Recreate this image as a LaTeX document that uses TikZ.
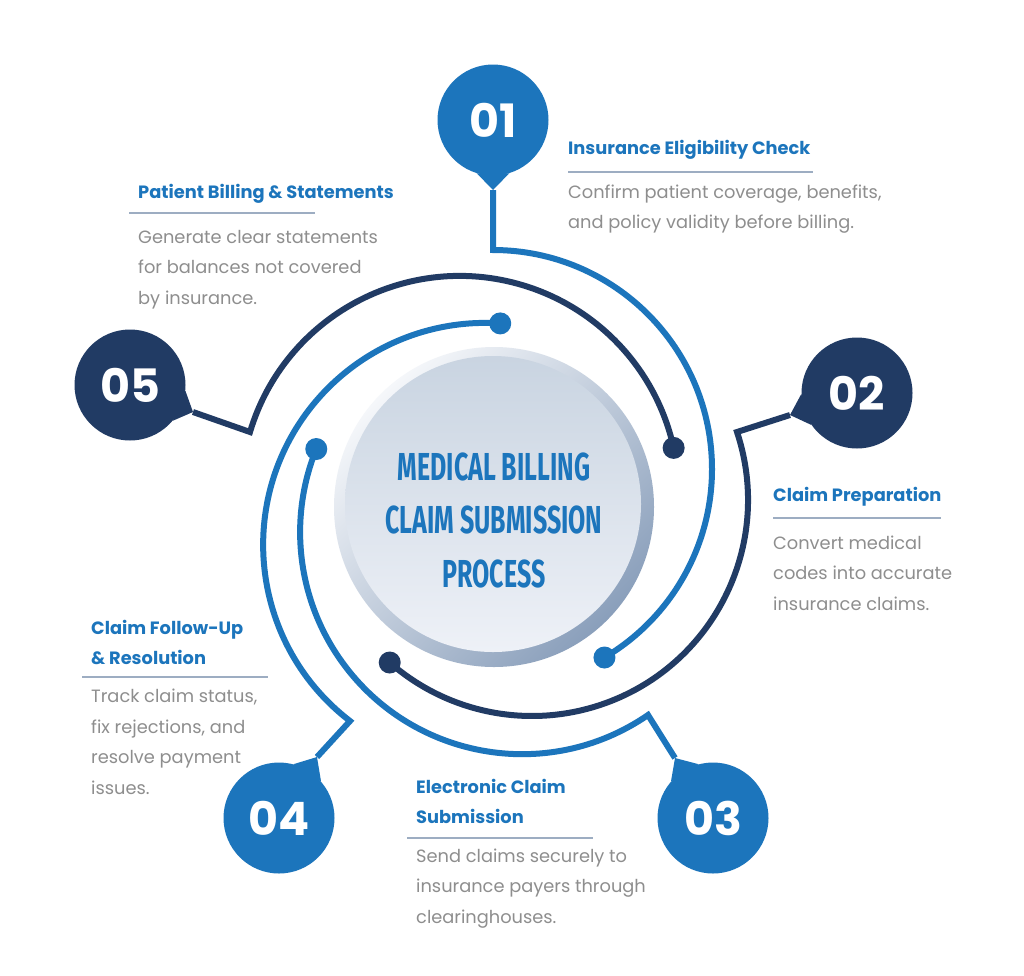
\documentclass[tikz,border=0pt]{standalone}
\usepackage{fontspec}
\setmainfont{Poppins}
\newfontfamily\titlefont[FakeStretch=0.64]{Fira Sans}
\definecolor{mbblue}{HTML}{1C75BC}
\definecolor{mbnavy}{HTML}{213B64}
\definecolor{mbtext}{HTML}{8E8E8E}
\definecolor{mbrule}{HTML}{9DADC2}
\definecolor{mbringlight}{HTML}{F5F7FA}
\definecolor{mbringdark}{HTML}{8A9FBB}
\definecolor{mbdisctop}{HTML}{C9D4E1}
\definecolor{mbdiscbot}{HTML}{EEF1F7}

\begin{document}
\begin{tikzpicture}[
  x=1pt, y=-1pt,
  bubble/.style={circle, minimum size=111, inner sep=0, text=white, font=\fontsize{46}{46}\selectfont\bfseries},
  enddot/.style={circle, minimum size=22, inner sep=0},
  linkline/.style={line width=6pt},
  stephead/.style={anchor=base west, inner sep=0, align=left, text=mbblue, font=\fontsize{17.8}{30}\selectfont\bfseries},
  stepbody/.style={anchor=base west, inner sep=0, align=left, text=mbtext, font=\fontsize{17.8}{30.5}\selectfont},
  steprule/.style={draw=mbrule, line width=1.3pt}
]
  \useasboundingbox[fill=white] (0,0) rectangle (1024,975);

  \node[circle, minimum size=320, inner sep=0, top color=mbringlight, bottom color=mbringdark, shading angle=45] (ring) at (494,507) {};
  \node[circle, minimum size=296, inner sep=0, top color=mbdisctop, bottom color=mbdiscbot] (disc) at (493,504) {};
  \node[align=center, text=mbblue, font=\titlefont\bfseries\fontsize{39}{53.5}\selectfont] (title) at (494,520) {MEDICAL BILLING\\CLAIM SUBMISSION\\PROCESS};

  \coordinate (p01) at (493,190);
  \coordinate (p02) at (790,415);
  \coordinate (p03) at (675,758);
  \coordinate (p04) at (317,757);
  \coordinate (p05) at (193,412);

  \draw[linkline, mbblue] (p01) -- (493,250) arc[start angle=-90, end angle=59.4, radius=219] node[enddot, fill=mbblue] (d01) {};
  \draw[linkline, mbnavy] (p02) -- (737,432) arc[start angle=-18.35, end angle=131.2, radius=216] node[enddot, fill=mbnavy] (d02) {};
  \draw[linkline, mbblue] (p03) -- (648,715) arc[start angle=55.45, end angle=202, radius=222] node[enddot, fill=mbblue] (d03) {};
  \draw[linkline, mbblue] (p04) -- (350,721) arc[start angle=127.5, end angle=273.9, radius=222] node[enddot, fill=mbblue] (d04) {};
  \draw[linkline, mbnavy] (p05) -- (250,432) arc[start angle=196.7, end angle=347.6, radius=219] node[enddot, fill=mbnavy] (d05) {};

  \node[bubble, fill=mbblue] (b01) at (493,120) {01};
  \node[bubble, fill=mbnavy] (b02) at (857,393) {02};
  \node[bubble, fill=mbblue] (b03) at (713,818) {03};
  \node[bubble, fill=mbblue] (b04) at (279,818) {04};
  \node[bubble, fill=mbnavy] (b05) at (130,385) {05};
  \fill[mbblue] (b01.-107) -- (p01) -- (b01.-73) -- cycle;
  \fill[mbnavy] (b02.181) -- (p02) -- (b02.215) -- cycle;
  \fill[mbblue] (b03.105) -- (p03) -- (b03.139) -- cycle;
  \fill[mbblue] (b04.41) -- (p04) -- (b04.75) -- cycle;
  \fill[mbnavy] (b05.-40) -- (p05) -- (b05.-6) -- cycle;

  \node[stephead] (h01) at (568,154) {Insurance Eligibility Check};
  \draw[steprule] (568,172) -- (813,172);
  \node[stepbody] (t01) at (568,228.5) {Confirm patient coverage, benefits,\\and policy validity before billing.};

  \node[stephead] (h02) at (773,501) {Claim Preparation};
  \draw[steprule] (773,518) -- (941,518);
  \node[stepbody] (t02) at (773,610) {Convert medical\\codes into accurate\\insurance claims.};

  \node[stephead] (h03) at (416,823.5) {Electronic Claim\\Submission};
  \draw[steprule] (407,838) -- (593,838);
  \node[stepbody] (t03) at (416,923) {Send claims securely to\\insurance payers through\\clearinghouses.};

  \node[stephead] (h04) at (91,664.5) {Claim Follow-Up\\\& Resolution};
  \draw[steprule] (82,677) -- (268,677);
  \node[stepbody] (t04) at (91,794) {Track claim status,\\fix rejections, and\\resolve payment\\issues.};

  \node[stephead] (h05) at (138,198) {Patient Billing \& Statements};
  \draw[steprule] (129,213) -- (315,213);
  \node[stepbody] (t05) at (138,304) {Generate clear statements\\for balances not covered\\by insurance.};
\end{tikzpicture}
\end{document}
